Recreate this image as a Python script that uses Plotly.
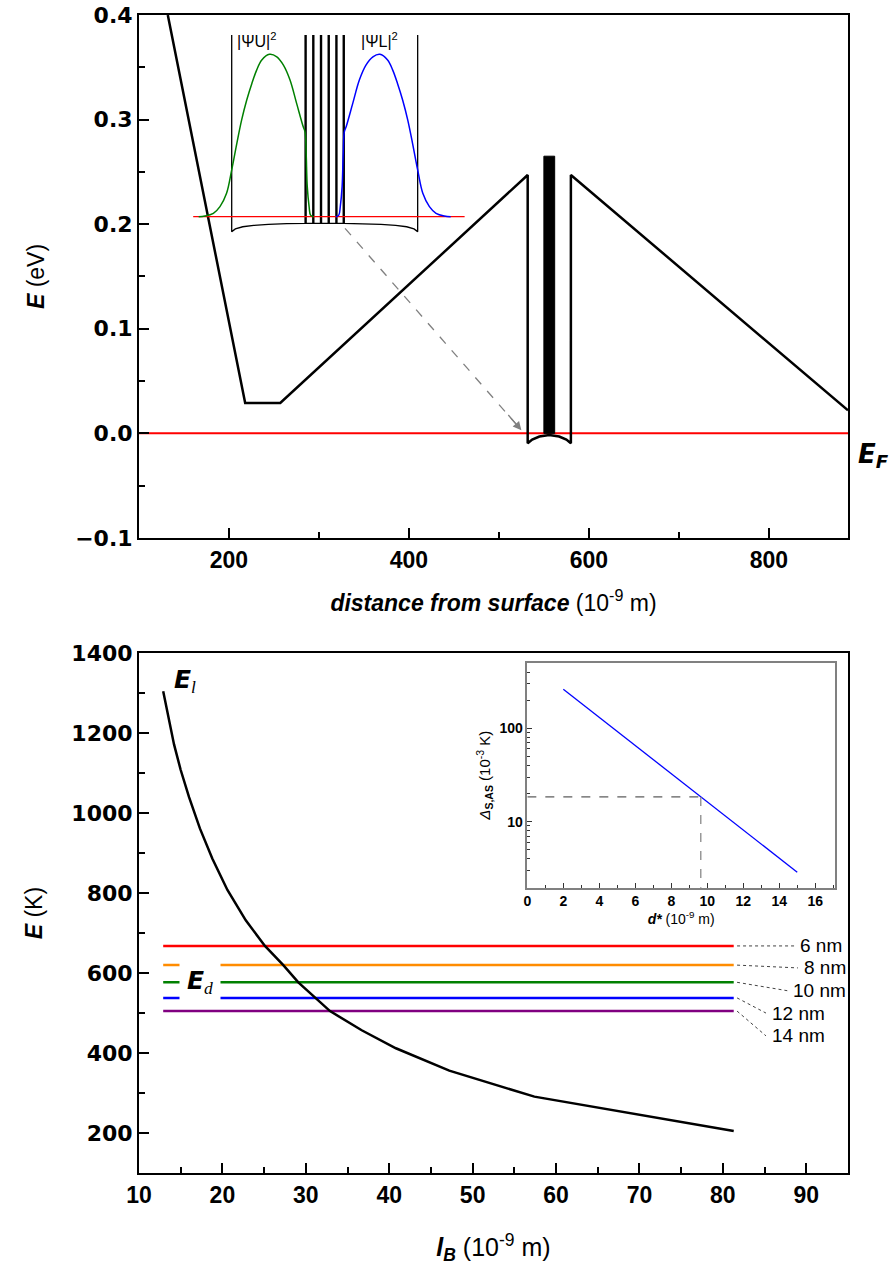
import plotly.graph_objects as go

# ---------------- upper panel: band profile vs depth ----------------
band_x = [132, 218, 257, 532, 532, 537, 545, 556, 567, 575, 580, 580, 888]
band_y = [0.400, 0.029, 0.029, 0.247, -0.0095, -0.006, -0.003, -0.0015, -0.003, -0.006, -0.0095, 0.247, 0.022]
sl_left, sl_right, sl_top = 550, 562, 0.265          # superlattice block
fermi_level = 0.0
arrow_x = [329, 521]
arrow_y = [0.196, 0.007]
arrow_tip = (525, 0.003)

# ---------------- upper inset: coupled wells (local units) ----------------
well_l_x = [0, 1, 3, 6, 10, 15, 20]
well_l_y = [-0.092, -0.075, -0.062, -0.054, -0.047, -0.043, -0.041]
barrier_x = [20.0, 22.1, 24.2, 26.3, 28.4, 30.4]
barrier_w = 0.3
well_r_x = [30.7, 35.7, 40.7, 44.7, 47.7, 49.7, 50.7]
well_r_y = [-0.041, -0.043, -0.047, -0.054, -0.062, -0.075, -0.092]
wall_top = 1.6
inset_ref_x = [-10.5, 63.5]

psiU_x = [-9.0, -7.3, -5.0, -3.2, -1.4, 0, 1.4, 2.7, 4.1, 5.5, 6.8, 8.2, 10.3, 12.3, 14.1, 15.9, 17.7, 19.5, 20.0, 20.3, 20.6, 21.1, 21.5, 22.3]
psiU_y = [0.0, 0.004, 0.021, 0.062, 0.144, 0.288, 0.452, 0.595, 0.719, 0.821, 0.903, 0.965, 1.0, 0.985, 0.934, 0.842, 0.698, 0.554, 0.523, 0.39, 0.185, 0.062, 0.01, 0.0]
psiL_x = [28.4, 29.2, 29.6, 30.1, 30.4, 30.7, 31.2, 33.0, 34.8, 36.6, 38.5, 40.4, 42.5, 43.9, 45.2, 46.6, 48.0, 49.3, 50.7, 52.1, 53.9, 55.7, 58.0, 59.7]
psiL_y = [0.0, 0.01, 0.062, 0.185, 0.39, 0.523, 0.554, 0.698, 0.842, 0.934, 0.985, 1.0, 0.965, 0.903, 0.821, 0.719, 0.595, 0.452, 0.288, 0.144, 0.062, 0.021, 0.004, 0.0]

# ---------------- lower panel: energies vs barrier length ----------------
lB = [12.9, 13.5, 14.2, 15.0, 16.0, 17.3, 18.8, 20.6, 22.8, 25.1, 27.3, 29.1, 32.9, 36.7, 40.8, 47.2, 57.4, 81.3]
E_l = [1305, 1240, 1172, 1108, 1040, 962, 886, 808, 732, 668, 620, 577, 505, 457, 412, 356, 291, 205]
ed_labels = ["6 nm", "8 nm", "10 nm", "12 nm", "14 nm"]
ed_values = [668, 620, 577, 538, 505]
ed_colors = ["#ff0000", "#ff8c00", "#008000", "#0000ff", "#800080"]
ed_span = [12.9, 81.3]
label_pos_x = [0.93, 0.935, 0.92, 0.89, 0.89]     # paper x of text
label_pos_y = [668, 613, 556, 500, 443]

# ---------------- lower inset: splitting vs d* ----------------
d_star = [2, 9.64, 15]
delta_sas = [262, 18.4, 2.87]
marked_d, marked_delta = 9.64, 18.4

BLACK = "black"
FONT = "Liberation Sans, Arial, sans-serif"
WIDE = "DejaVu Sans, Verdana, sans-serif"

fig = go.Figure()

# upper panel traces
fig.add_trace(go.Scatter(x=[band_x[0] - 40, band_x[-1] + 40], y=[fermi_level, fermi_level], mode="lines",
                         line=dict(color="#ff0000", width=2), xaxis="x", yaxis="y"))
fig.add_trace(go.Scatter(x=band_x, y=band_y, mode="lines", line=dict(color=BLACK, width=2.5),
                         xaxis="x", yaxis="y"))
fig.add_trace(go.Scatter(x=[sl_left, sl_right, sl_right, sl_left, sl_left],
                         y=[fermi_level, fermi_level, sl_top, sl_top, fermi_level],
                         mode="lines", fill="toself", fillcolor=BLACK, line=dict(color=BLACK, width=1),
                         xaxis="x", yaxis="y"))
fig.add_trace(go.Scatter(x=arrow_x, y=arrow_y, mode="lines", line=dict(color="#808080", width=1.3, dash="dash"),
                         xaxis="x", yaxis="y"))

# upper inset: potential profile of the two wells separated by thin barriers
bottom_mid = well_l_y[-1]
prof_x = [well_l_x[0]] + well_l_x
prof_y = [wall_top] + well_l_y
for i, b in enumerate(barrier_x):
    if i > 0:
        prof_x += [b, b]
        prof_y += [bottom_mid, wall_top]
    else:
        prof_x += [b]
        prof_y += [wall_top]
    prof_x += [b + barrier_w, b + barrier_w]
    prof_y += [wall_top, bottom_mid]
prof_x += well_r_x + [well_r_x[-1]]
prof_y += well_r_y + [wall_top]
fig.add_trace(go.Scatter(x=prof_x, y=prof_y, mode="lines", line=dict(color=BLACK, width=1.3),
                         xaxis="x3", yaxis="y3"))
fig.add_trace(go.Scatter(x=inset_ref_x, y=[0, 0], mode="lines", line=dict(color="#ff0000", width=1.3),
                         xaxis="x3", yaxis="y3"))
fig.add_trace(go.Scatter(x=psiU_x, y=psiU_y, mode="lines", line=dict(color="#008000", width=1.5, shape="spline"),
                         xaxis="x3", yaxis="y3"))
fig.add_trace(go.Scatter(x=psiL_x, y=psiL_y, mode="lines", line=dict(color="#0000ff", width=1.5, shape="spline"),
                         xaxis="x3", yaxis="y3"))

# lower panel traces
for val, col in zip(ed_values, ed_colors):
    fig.add_trace(go.Scatter(x=ed_span, y=[val, val], mode="lines", line=dict(color=col, width=2.5),
                             xaxis="x2", yaxis="y2"))
fig.add_trace(go.Scatter(x=lB, y=E_l, mode="lines", line=dict(color=BLACK, width=2.5),
                         xaxis="x2", yaxis="y2"))
for val, ly, lx in zip(ed_values, label_pos_y, label_pos_x):
    end_x = 10 + (lx * 709 - 4) / 709 * 85
    fig.add_trace(go.Scatter(x=[ed_span[1] + 0.4, end_x], y=[val, ly], mode="lines",
                             line=dict(color="#444444", width=1, dash="dot"), xaxis="x2", yaxis="y2",
                             cliponaxis=False))

# lower inset traces
fig.add_trace(go.Scatter(x=d_star, y=delta_sas, mode="lines", line=dict(color="#0000ff", width=1.3),
                         xaxis="x4", yaxis="y4"))
fig.add_trace(go.Scatter(x=[0, marked_d], y=[marked_delta, marked_delta], mode="lines",
                         line=dict(color="#333333", width=1, dash="dash"), xaxis="x4", yaxis="y4"))
fig.add_trace(go.Scatter(x=[marked_d, marked_d], y=[marked_delta, 1.5], mode="lines",
                         line=dict(color="#888888", width=1.3, dash="dash"), xaxis="x4", yaxis="y4"))

base_ax = dict(showgrid=False, zeroline=False, showline=True, mirror=True, linecolor=BLACK, linewidth=2,
               ticks="inside", ticklen=10, tickwidth=2, tickcolor=BLACK, automargin=False)
x_tickfont = dict(family=FONT, size=23, color=BLACK, weight="bold")
y_tickfont = dict(family=WIDE, size=22, color=BLACK, weight="bold")
inset_ax = dict(showgrid=False, zeroline=False, showline=True, mirror=True, linecolor="#808080", linewidth=1.5,
                ticks="inside", ticklen=5, tickwidth=1, tickcolor="#333333", automargin=False,
                tickfont=dict(family=FONT, size=14, color=BLACK, weight="bold"))

fig.update_layout(
    template="none",
    width=892, height=1273, showlegend=False,
    paper_bgcolor="white", plot_bgcolor="rgba(0,0,0,0)",
    margin=dict(l=139, r=44, t=15, b=100, autoexpand=False),
    font=dict(family=FONT, color=BLACK),
    xaxis=dict(base_ax, tickfont=x_tickfont, domain=[0, 1], anchor="y", range=[100, 888], tickvals=[200, 400, 600, 800],
               minor=dict(ticks="inside", ticklen=6, tickwidth=2, tick0=100, dtick=100),
               title=dict(text="<b><i>distance from surface</i></b> (10<sup>-9</sup> m)",
                          font=dict(size=23), standoff=23)),
    yaxis=dict(base_ax, tickfont=y_tickfont, domain=[0.5484, 1], anchor="x", range=[-0.1, 0.4], dtick=0.1, tick0=0,
               tickformat=".1f",
               minor=dict(ticks="inside", ticklen=6, tickwidth=2, dtick=0.05),
               title=dict(text="<b><i>E</i></b> (eV)", font=dict(size=23), standoff=24)),
    xaxis2=dict(base_ax, tickfont=x_tickfont, domain=[0, 1], anchor="y2", range=[10, 95], dtick=10, tick0=0,
                minor=dict(ticks="inside", ticklen=6, tickwidth=2, dtick=5),
                title=dict(text="<b><i>l<sub>B</sub></i></b> (10<sup>-9</sup> m)", font=dict(size=25), standoff=32)),
    yaxis2=dict(base_ax, tickfont=y_tickfont, domain=[0, 0.4488], anchor="x2", range=[100, 1400],
                tickvals=[200, 400, 600, 800, 1000, 1200, 1400],
                minor=dict(ticks="inside", ticklen=6, tickwidth=2, dtick=100, tick0=100),
                title=dict(text="<b><i>E</i></b> (K)", font=dict(size=23), standoff=22)),
    xaxis3=dict(domain=[0.0578, 0.481], anchor="y3", range=[-14.1, 67.7], visible=False),
    yaxis3=dict(domain=[0.8057, 0.9827], anchor="x3", range=[-0.1435, 1.119], visible=False),
    xaxis4=dict(inset_ax, domain=[0.5477, 0.9817], anchor="y4", range=[0, 17.1], dtick=2, tick0=0,
                minor=dict(ticks="inside", ticklen=3, tickcolor="#333333", dtick=1),
                title=dict(text="<b><i>d*</i></b> (10<sup>-9</sup> m)", font=dict(size=14), standoff=3)),
    yaxis4=dict(inset_ax, domain=[0.2464, 0.4407], anchor="x4", type="log", range=[0.2926, 2.703],
                tickvals=[10, 100], ticktext=["10", "100"],
                minor=dict(ticks="inside", ticklen=3, tickcolor="#333333",
                           tickvals=[3, 4, 5, 6, 7, 8, 9, 20, 30, 40, 50, 60, 70, 80, 90, 200, 300, 400, 500]),
                title=dict(text="<i>Δ</i><b><sub>S,AS</sub></b> (10<sup>-3</sup> K)", font=dict(size=15), standoff=5)),
)

ann = []
ann.append(dict(text="<b><i>E</i></b><b><i><sub>F</sub></i></b>", xref="paper", yref="y", x=1.011, y=0,
                xanchor="left", yanchor="middle", yshift=-22, showarrow=False,
                font=dict(family=WIDE, size=26, color=BLACK)))
ann.append(dict(text="|ΨU|<sup>2</sup>", xref="x3", yref="y3", x=6.8, y=1.088, showarrow=False,
                font=dict(size=16, color=BLACK)))
ann.append(dict(text="|ΨL|<sup>2</sup>", xref="x3", yref="y3", x=40.2, y=1.088, showarrow=False,
                font=dict(size=16, color=BLACK)))
ann.append(dict(text="", x=arrow_tip[0], y=arrow_tip[1], xref="x", yref="y", ax=arrow_x[1] - 12, ay=arrow_y[1] + 0.012,
                axref="x", ayref="y", showarrow=True, arrowhead=2, arrowsize=1.3, arrowwidth=1.3, arrowcolor="#808080"))
ann.append(dict(text="<b><i>E</i></b><i><sub><span style='font-family:Liberation Serif'>l</span></sub></i>",
                xref="x2", yref="y2", x=14.0, y=1330, xanchor="left", showarrow=False,
                font=dict(family=WIDE, size=25, color=BLACK)))
ann.append(dict(text="<b><i>E</i></b><i><sub><span style='font-family:Liberation Serif'>d</span></sub></i>",
                xref="x2", yref="y2", x=17.3, y=579, showarrow=False, bgcolor="white", borderpad=0,
                width=40, height=42, font=dict(family=WIDE, size=25, color=BLACK)))
for txt, lx, ly in zip(ed_labels, label_pos_x, label_pos_y):
    ann.append(dict(text=txt, xref="paper", yref="y2", x=lx, y=ly, xanchor="left", showarrow=False,
                    font=dict(size=19, color=BLACK)))
fig.update_layout(annotations=ann)

fig.write_html("out.html")
